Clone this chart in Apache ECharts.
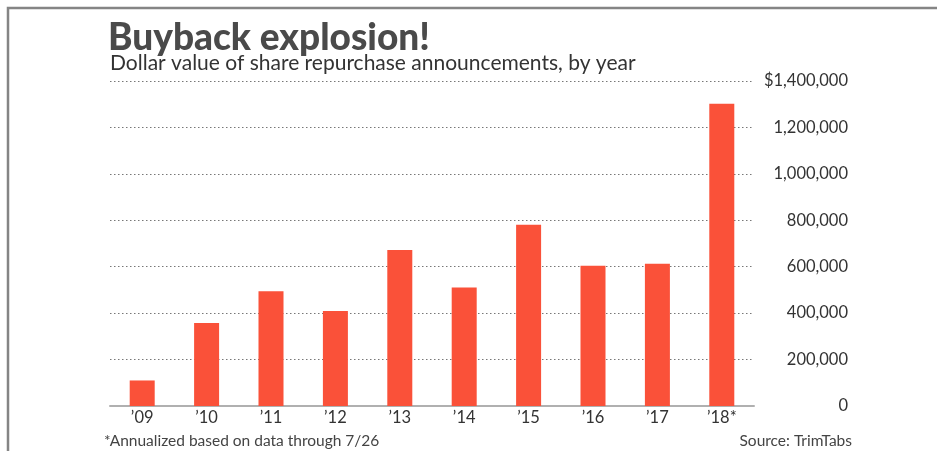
<!DOCTYPE html>
<html lang="en">

<head>
    <meta charset="UTF-8">
    <title>Buyback explosion!</title>
    <script src="https://cdn.jsdelivr.net/npm/echarts@6/dist/echarts.min.js"></script>
    <style>
        body { margin: 0; background: #fff; }
        #main { width: 937px; height: 451px; }
    </style>
</head>

<body>
    <div id="main"></div>
    <script type="text/javascript">
        // years and announced buybacks ($ millions)
        var years = ['\u201909', '\u201910', '\u201911', '\u201912', '\u201913', '\u201914', '\u201915', '\u201916', '\u201917', '\u201918*'];
        var buybacks = [110000, 358000, 494000, 409000, 672000, 510000, 781000, 604000, 613000, 1302000];
        var yTicks = [0, 200000, 400000, 600000, 800000, 1000000, 1200000, 1400000];

        var myChart = echarts.init(document.getElementById('main'));
        var font = 'Lato, "Open Sans", sans-serif';

        var option = {
            animation: false,
            backgroundColor: '#fff',
            textStyle: { fontFamily: font },
            title: [{
                text: 'Buyback explosion!',
                left: 103,
                top: 15,
                textStyle: { fontSize: 37, fontWeight: 900, color: '#4a4a4a', fontFamily: font }
            }, {
                text: 'Dollar value of share repurchase announcements, by year',
                left: 105,
                top: 48,
                textStyle: { fontSize: 21, fontWeight: 'normal', color: '#333', fontFamily: font }
            }, {
                text: '*Annualized based on data through 7/26',
                left: 99,
                top: 428,
                textStyle: { fontSize: 15.5, fontWeight: 'normal', color: '#444', fontFamily: font }
            }, {
                text: 'Source: TrimTabs',
                right: 80,
                top: 428,
                textStyle: { fontSize: 15.5, fontWeight: 'normal', color: '#444', fontFamily: font }
            }],
            graphic: [{
                type: 'rect',
                shape: { x: 8, y: 8, width: 1000, height: 1000 },
                style: { fill: 'none', stroke: '#858585', lineWidth: 2.5 },
                silent: true
            }],
            grid: { left: 110, right: 183, top: 81, bottom: 45 },
            xAxis: {
                type: 'category',
                data: years,
                axisTick: { show: false },
                axisLine: { lineStyle: { color: '#b0b0b0', width: 2 } },
                axisLabel: { color: '#333', fontSize: 16.5, margin: 3, fontFamily: font }
            },
            yAxis: {
                type: 'value',
                position: 'right',
                min: 0,
                max: yTicks[yTicks.length - 1],
                interval: yTicks[1] - yTicks[0],
                axisLine: { show: false },
                axisTick: { show: false },
                splitLine: { lineStyle: { color: '#777', type: [1.5, 2.5], width: 1 } },
                axisLabel: {
                    color: '#333',
                    fontSize: 16.5,
                    align: 'right',
                    margin: 94,
                    fontFamily: font,
                    formatter: function (v) {
                        var s = v.toLocaleString('en-US');
                        return v === yTicks[yTicks.length - 1] ? '$' + s : s;
                    }
                }
            },
            series: [{
                type: 'bar',
                data: buybacks,
                barWidth: 25,
                itemStyle: { color: '#fa5139' }
            }]
        };

        option && myChart.setOption(option);
    </script>
</body>

</html>
